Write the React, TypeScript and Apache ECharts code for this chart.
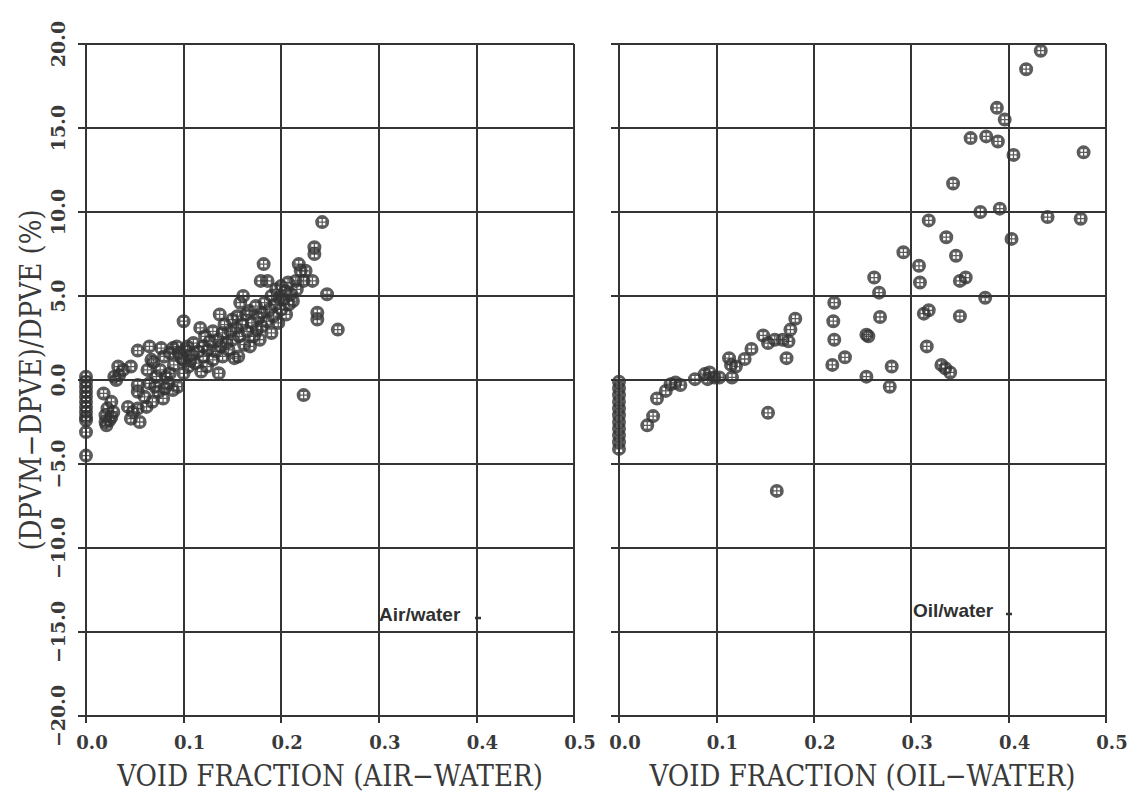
import React, { useEffect, useRef } from "react";
import * as echarts from "echarts";

// ---- data ----
const xTickValues = [0, 0.1, 0.2, 0.3, 0.4, 0.5];
const yTickValues = [-20, -15, -10, -5, 0, 5, 10, 15, 20];
const xTitles = ["VOID FRACTION (AIR−WATER)", "VOID FRACTION (OIL−WATER)"];
const yTitle = "(DPVM−DPVE)/DPVE (%)";
const panelLabels = ["Air/water", "Oil/water"];

const airWaterPoints: [number, number][] = [
  [0, 0.2], [0, -0.1], [0, -0.4], [0, -0.7], [0, -1.0], [0, -1.3], [0, -1.6], [0, -1.9], [0, -2.2], [0, -2.4], [0, -3.1], [0, -4.5],
  [0.018, -0.8], [0.026, -1.3], [0.022, -1.7], [0.028, -1.9], [0.02, -2.1], [0.026, -2.2], [0.02, -2.5], [0.021, -2.7], [0.024, -2.4],
  [0.029, 0.2], [0.031, 0.0], [0.034, 0.3], [0.033, 0.8], [0.038, 0.6], [0.046, 0.8],
  [0.043, -1.6], [0.048, -1.9], [0.053, -1.7], [0.046, -2.3], [0.055, -2.5], [0.062, -1.6], [0.053, -0.3], [0.053, -0.7],
  [0.065, -0.2], [0.074, -0.7], [0.079, -1.1], [0.084, -0.2], [0.094, -0.4], [0.06, -1.0], [0.068, -1.3], [0.071, -0.4],
  [0.081, -0.5], [0.089, -0.6],
  [0.053, 1.75], [0.065, 2.0], [0.077, 1.9], [0.067, 1.2], [0.076, 0.6], [0.086, 1.6], [0.093, 2.0], [0.082, 0.2], [0.089, 1.9],
  [0.069, 1.05], [0.086, 0.4], [0.1, 0.4], [0.104, 2.0], [0.107, 1.15], [0.098, 1.3], [0.09, 0.9], [0.095, 1.6], [0.08, 1.4],
  [0.072, 0.2], [0.063, 0.6],
  [0.1, 3.5], [0.1, 1.2], [0.102, 1.8], [0.105, 0.8], [0.108, 1.5], [0.11, 2.2], [0.112, 1.0], [0.115, 1.7], [0.117, 3.1],
  [0.118, 0.5], [0.12, 1.4], [0.12, 2.0],
  [0.122, 2.6], [0.124, 0.8], [0.125, 1.8], [0.127, 2.3], [0.13, 1.2], [0.13, 2.9], [0.133, 1.7], [0.135, 2.4], [0.136, 0.4],
  [0.137, 3.9], [0.138, 2.0], [0.14, 1.4], [0.14, 2.8],
  [0.142, 3.3], [0.144, 2.2], [0.146, 1.8], [0.148, 2.9], [0.15, 3.6], [0.15, 2.4], [0.152, 1.3], [0.154, 3.1], [0.155, 3.8],
  [0.156, 1.4], [0.157, 2.6], [0.158, 4.6], [0.16, 3.3], [0.161, 5.0],
  [0.162, 2.1], [0.164, 3.9], [0.165, 2.9], [0.167, 4.1], [0.168, 2.0], [0.17, 3.4], [0.172, 2.6], [0.174, 4.4], [0.175, 3.0],
  [0.177, 3.7], [0.178, 2.4], [0.179, 5.9], [0.18, 4.0], [0.182, 6.9], [0.18, 3.2],
  [0.183, 4.6], [0.185, 3.5], [0.186, 5.9], [0.188, 4.2], [0.19, 2.8], [0.19, 5.0], [0.192, 3.8], [0.194, 4.5], [0.195, 5.4],
  [0.197, 3.4], [0.198, 4.9], [0.2, 4.2], [0.2, 5.6],
  [0.202, 4.8], [0.204, 5.3], [0.205, 3.9], [0.207, 5.8], [0.208, 4.5], [0.21, 5.1], [0.212, 4.7], [0.215, 5.9], [0.216, 5.4],
  [0.218, 6.9], [0.22, 6.5], [0.223, 5.9], [0.223, -0.9], [0.225, 6.5], [0.232, 5.9], [0.234, 7.5], [0.234, 7.9], [0.237, 4.0],
  [0.237, 3.6], [0.242, 9.4], [0.247, 5.1], [0.258, 3.0],
];

const oilWaterPoints: [number, number][] = [
  [0, -0.1], [0, -0.5], [0, -0.9], [0, -1.3], [0, -1.7], [0, -2.1], [0, -2.5], [0, -2.9], [0, -3.3], [0, -3.7], [0, -4.1],
  [0.029, -2.7], [0.035, -2.15], [0.039, -1.1], [0.048, -0.65], [0.053, -0.25], [0.058, -0.15], [0.063, -0.3], [0.078, 0.05],
  [0.088, 0.35], [0.093, 0.45], [0.091, 0.05], [0.098, 0.15], [0.103, 0.15], [0.116, 0.15], [0.113, 1.3], [0.115, 0.9],
  [0.12, 0.8], [0.129, 1.25], [0.136, 1.85], [0.148, 2.65], [0.153, 2.2], [0.16, 2.4], [0.168, 2.4], [0.174, 2.3], [0.172, 1.3],
  [0.176, 3.0], [0.181, 3.65], [0.153, -1.95], [0.162, -6.6],
  [0.221, 4.6], [0.22, 3.5], [0.221, 2.4], [0.219, 0.9], [0.232, 1.35], [0.254, 2.7], [0.256, 2.6], [0.262, 6.1], [0.267, 5.2],
  [0.268, 3.75], [0.28, 0.8], [0.254, 0.2], [0.278, -0.4], [0.292, 7.6],
  [0.308, 6.8], [0.309, 5.8], [0.313, 3.95], [0.318, 4.15], [0.316, 2.0], [0.331, 0.9], [0.335, 0.7], [0.34, 0.45], [0.318, 9.5],
  [0.336, 8.5], [0.346, 7.4], [0.35, 5.9], [0.356, 6.1], [0.35, 3.8], [0.376, 4.9], [0.343, 11.7], [0.361, 14.4], [0.377, 14.5],
  [0.389, 14.2], [0.388, 16.2], [0.396, 15.5], [0.405, 13.4], [0.418, 18.5], [0.433, 19.6], [0.371, 10.0], [0.391, 10.2],
  [0.403, 8.4], [0.44, 9.7], [0.474, 9.6], [0.477, 13.55],
];

// dark circle with four small square windows (crossed circle marker)
const MARKER =
  "path://M10,0A10,10,0,1,1,10,20A10,10,0,1,1,10,0Z" +
  "M5.5,5.5L5.5,9.1L9.1,9.1L9.1,5.5Z" +
  "M10.9,5.5L10.9,9.1L14.5,9.1L14.5,5.5Z" +
  "M5.5,10.9L5.5,14.5L9.1,14.5L9.1,10.9Z" +
  "M10.9,10.9L10.9,14.5L14.5,14.5L14.5,10.9Z";

export default function App() {
  const ref = useRef<HTMLDivElement>(null);

  useEffect(() => {
    const chart = echarts.init(ref.current!, undefined, { renderer: "svg" });
    const ink = "#343434";
    const textInk = "#3a3a3a";
    const serif = "'DejaVu Serif Condensed', 'DejaVu Serif', serif";
    const fmtY = (v: number) => (v < 0 ? "−" + Math.abs(v).toFixed(1) : v.toFixed(1));
    const grids = [
      { left: 86, top: 44, width: 488, height: 672 },
      { left: 619, top: 44, width: 487, height: 672 },
    ];
    const xAxes = [0, 1].map((i) => ({
      type: "value",
      gridIndex: i,
      min: xTickValues[0],
      max: xTickValues[xTickValues.length - 1],
      interval: 0.1,
      axisLine: { show: true, onZero: false, lineStyle: { color: ink, width: 2 } },
      axisTick: { show: true, length: 7, lineStyle: { color: ink, width: 2 } },
      axisLabel: {
        formatter: (v: number) => v.toFixed(1),
        margin: 17,
        padding: [0, 0, 0, 12],
        fontFamily: "DejaVu Serif",
        fontWeight: "bold",
        fontSize: 18,
        color: textInk,
        showMinLabel: true,
        showMaxLabel: true,
      },
      splitLine: { show: true, lineStyle: { color: ink, width: 2 } },
      name: xTitles[i],
      nameLocation: "middle",
      nameGap: 45,
      nameTextStyle: { fontFamily: serif, fontSize: 29, color: textInk },
    }));
    const yAxes = [0, 1].map((i) => ({
      type: "value",
      gridIndex: i,
      min: yTickValues[0],
      max: yTickValues[yTickValues.length - 1],
      interval: 5,
      axisLine: { show: true, onZero: false, lineStyle: { color: ink, width: 2 } },
      axisTick: { show: true, length: 8, lineStyle: { color: ink, width: 2 } },
      axisLabel: {
        show: i === 0,
        rotate: 90,
        formatter: fmtY,
        margin: 19,
        fontFamily: "DejaVu Serif",
        fontWeight: "bold",
        fontSize: 19,
        color: textInk,
      },
      splitLine: { show: true, lineStyle: { color: ink, width: 2 } },
      name: i === 0 ? yTitle : "",
      nameLocation: "middle",
      nameRotate: 90,
      nameGap: 41,
      nameTextStyle: { fontFamily: serif, fontSize: 29, color: textInk },
    }));
    const mk = (data: [number, number][], i: number) => ({
      type: "scatter",
      name: panelLabels[i],
      xAxisIndex: i,
      yAxisIndex: i,
      data,
      symbol: MARKER,
      symbolSize: 14,
      itemStyle: { color: "#333333" },
    });
    const labelFont = {
      fontFamily: "'Liberation Sans', Arial, sans-serif",
      fontWeight: "bold",
      fontSize: 19,
      fill: "#303030",
    };
    chart.setOption({
      animation: false,
      backgroundColor: "#ffffff",
      grid: grids,
      xAxis: xAxes,
      yAxis: yAxes,
      series: [mk(airWaterPoints, 0), mk(oilWaterPoints, 1)],
      graphic: [
        { type: "text", left: 379, top: 605, style: { text: panelLabels[0], ...labelFont } },
        { type: "line", shape: { x1: 475, y1: 618, x2: 481, y2: 618 }, style: { stroke: "#333", lineWidth: 2.5 } },
        { type: "text", left: 913, top: 601, style: { text: panelLabels[1], ...labelFont } },
        { type: "line", shape: { x1: 1006, y1: 614, x2: 1012, y2: 614 }, style: { stroke: "#333", lineWidth: 2.5 } },
      ],
    });
    return () => chart.dispose();
  }, []);

  return (
    <div
      ref={ref}
      style={{ position: "fixed", left: 0, top: 0, width: 1139, height: 799, background: "#fff" }}
    />
  );
}
